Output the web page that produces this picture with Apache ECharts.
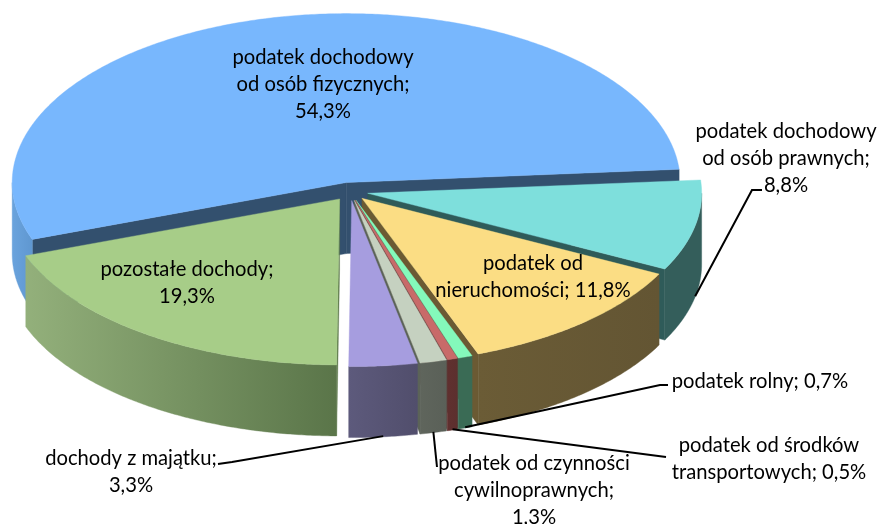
<!DOCTYPE html>
<html><head><meta charset="utf-8">
<style>html,body{margin:0;padding:0;background:#fff}#c{width:880px;height:524px}</style>
<script src="https://cdn.jsdelivr.net/npm/echarts@6/dist/echarts.min.js"></script>
</head><body><div id="c"></div>
<script>
const categories = ['podatek dochodowy\nod osób fizycznych','podatek dochodowy\nod osób prawnych','podatek od\nnieruchomości','podatek rolny','podatek od środków\ntransportowych','podatek od czynności\ncywilnoprawnych','dochody z majątku','pozostałe dochody'];
const shares = [54.3,8.8,11.8,0.7,0.5,1.3,3.3,19.3];
const valueBreaks = ['\n','\n',' ',' ',' ','\n','\n','\n'];

// styling, separate from the data
const topColors  = ['#78b7fd','#7edfdc','#fbdd84','#84f9bb','#c86a69','#c5d1c0','#a69ddf','#a7cd88'];
const wallFrom   = ['#6aa3dd','#345e5b','#6b5c36','#3a6b55','#60302f','#5f655c','#5d5a7c','#93b07b'];
const wallTo     = ['#5f97d0','#345e5b','#635533','#3a6b55','#5c2f2e','#5a6058','#514e6c','#5a7549'];
const cutColors  = ['#33506e','#2f5b59','#6b5a33','#3a6b55','#60302f','#5b6358','#5b587a','#5f7b4d'];
const labelSpots = [[323,84],[786,158],[533,277],[760,381],[769,459],[534,490],[131,472],[187,283]];
const lineEnds   = [null,[[752,190],[762,190]],null,[[660,385],[668,385]],[[666,457]],[[437,467]],[[232,462],[218,464]],null];
const pie = {cx:350, cy:191.5, rx:334, ryBack:169, ryFront:166, depth:71, burst:18, firstAngle:200};

const total = shares.reduce((a,b)=>a+b,0);
const rad = d=>d*Math.PI/180;

function sliceAngles(i){
  let before = 0;
  for(let k=0;k<i;k++) before += shares[k];
  const hi = pie.firstAngle - before/total*360;
  return [hi - shares[i]/total*360, hi];
}
function hub(i){
  const [a0,a1] = sliceAngles(i), m = rad((a0+a1)/2);
  return [pie.cx + pie.burst*Math.cos(m), pie.cy - pie.burst*pie.ryBack/pie.rx*Math.sin(m)];
}
function rim(h,deg,drop){
  const s = Math.sin(rad(deg));
  return [h[0]+pie.rx*Math.cos(rad(deg)), h[1]-(s>0?pie.ryBack:pie.ryFront)*s+(drop||0)];
}
function arc(h,from,to,drop){
  const n = Math.max(2,Math.ceil(Math.abs(to-from)*2)), pts=[];
  for(let j=0;j<=n;j++) pts.push(rim(h,from+(to-from)*j/n,drop));
  return pts;
}
function renderSlice(params, api){
  const i = params.dataIndex;
  const [a0,a1] = sliceAngles(i), h = hub(i), kids = [];
  const poly = (points,fill)=>kids.push({type:'polygon',silent:true,shape:{points},style:{fill,stroke:fill,lineWidth:0.4}});
  const below = p=>[p[0],p[1]+pie.depth];
  if(Math.cos(rad(a1))<0) poly([h,rim(h,a1),below(rim(h,a1)),below(h)],cutColors[i]);
  if(Math.cos(rad(a0))>0) poly([h,rim(h,a0),below(rim(h,a0)),below(h)],cutColors[i]);
  [[-180,0],[180,360]].forEach(r=>{
    const lo=Math.max(a0,r[0]), up=Math.min(a1,r[1]);
    if(up<=lo) return;
    const pts = arc(h,lo,up,0).concat(arc(h,up,lo,pie.depth));
    const w = {type:'linear',x:0,y:0,x2:1,y2:0,colorStops:[{offset:0,color:wallFrom[i]},{offset:1,color:wallTo[i]}]};
    poly(pts,w);
  });
  poly([h].concat(arc(h,a0,a1,0)),topColors[i]);
  return {type:'group',children:kids};
}
function renderLabel(params, api){
  const i = params.dataIndex, value = api.value(0);
  const kids = [];
  if(lineEnds[i]){
    const [a0,a1] = sliceAngles(i), start = rim(hub(i),(a0+a1)/2,pie.depth*0.99);
    kids.push({type:'polyline',silent:true,shape:{points:[start].concat(lineEnds[i])},style:{stroke:'#000',lineWidth:2,fill:null}});
  }
  const text = categories[i]+';'+valueBreaks[i]+String(value.toFixed(1)).replace('.',',')+'%';
  kids.push({type:'text',silent:true,style:{text,x:labelSpots[i][0],y:labelSpots[i][1],align:'center',verticalAlign:'middle',textAlign:'center',textVerticalAlign:'middle',font:'20.2px Lato',lineHeight:27,fill:'#000'}});
  return {type:'group',children:kids};
}
const chart = echarts.init(document.getElementById('c'),null,{renderer:'canvas'});
const rows = shares.map((v,i)=>({name:categories[i],value:[v]}));
chart.setOption({
  animation:false,
  backgroundColor:'#fff',
  series:[
    {type:'custom',coordinateSystem:'none',z:2,renderItem:renderSlice,data:rows},
    {type:'custom',coordinateSystem:'none',z:3,renderItem:renderLabel,data:rows}
  ]
});
</script></body></html>
